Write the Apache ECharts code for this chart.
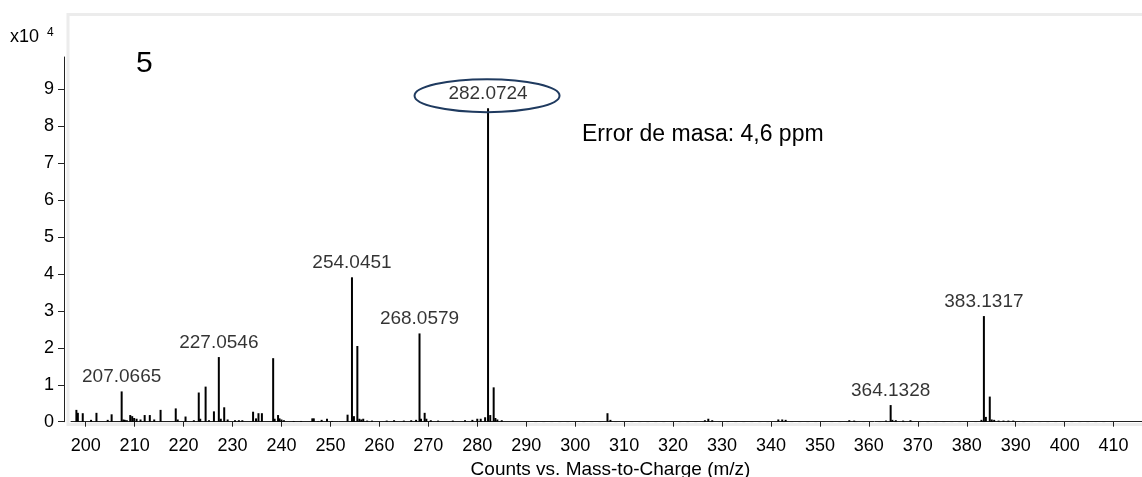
<!DOCTYPE html>
<html>
<head>
<meta charset="utf-8">
<script src="https://cdn.jsdelivr.net/npm/echarts@6/dist/echarts.min.js"></script>
<style>
  html, body { margin: 0; padding: 0; background: #fff; }
  #main { width: 1142px; height: 477px; }
</style>
</head>
<body>
<div id="main"></div>
<script>
// m/z of every stick and its height (counts x10^4)
var mz = [198.1, 198.4, 199.4, 201.1, 202.2, 204.5, 205.3, 207.35, 207.7, 208.0, 208.4, 209.1, 209.5, 209.9, 210.4, 211.2,
  212.05, 213.1, 214.0, 215.3, 218.4, 218.8, 220.4, 222.1, 223.1, 223.4, 224.5, 225.2, 226.2, 227.2, 227.6, 228.3,
  229.0, 230.5, 231.3, 232.0, 234.2, 234.8, 235.3, 236.0, 238.3, 238.6, 239.3, 239.6, 240.0, 240.5, 242.5, 244.0,
  246.3, 246.6, 247.5, 248.2, 249.3, 250.3, 253.5, 254.4, 254.8, 255.5, 255.9, 256.3, 256.7, 257.5, 258.5, 261.5,
  263.0, 265.0, 266.5, 267.5, 268.2, 268.5, 269.25, 269.6, 270.5, 272.0, 275.0, 277.5, 279.0, 280.0, 280.7, 281.6,
  282.2, 282.65, 283.35, 283.7, 284.1, 285.0, 306.6, 307.2, 326.5, 327.2, 328.0, 341.5, 342.3, 343.0, 356.0, 357.0,
  363.5, 364.45, 364.8, 365.5, 367.0, 368.5, 383.0, 383.5, 383.9, 384.7, 385.1, 385.6, 386.5, 387.5, 388.5, 389.5];
var counts = [0.32, 0.24, 0.23, 0.05, 0.24, 0.05, 0.20, 0.82, 0.06, 0.05, 0.04, 0.18, 0.15, 0.10, 0.08, 0.06,
  0.18, 0.18, 0.06, 0.32, 0.36, 0.06, 0.14, 0.04, 0.79, 0.08, 0.95, 0.04, 0.28, 1.75, 0.08, 0.39,
  0.06, 0.04, 0.04, 0.04, 0.27, 0.09, 0.23, 0.23, 1.72, 0.08, 0.18, 0.09, 0.06, 0.04, 0.02, 0.02,
  0.09, 0.09, 0.02, 0.05, 0.08, 0.02, 0.19, 3.91, 0.15, 2.05, 0.08, 0.06, 0.08, 0.03, 0.03, 0.03,
  0.04, 0.03, 0.04, 0.05, 2.39, 0.08, 0.24, 0.08, 0.04, 0.03, 0.03, 0.04, 0.05, 0.08, 0.08, 0.12,
  8.49, 0.18, 0.93, 0.10, 0.06, 0.04, 0.23, 0.05, 0.04, 0.08, 0.04, 0.06, 0.06, 0.05, 0.04, 0.03,
  0.03, 0.45, 0.05, 0.04, 0.03, 0.04, 0.05, 2.86, 0.13, 0.68, 0.06, 0.05, 0.03, 0.03, 0.03, 0.03];

// labelled peaks
var labelMz = [207.35, 227.2, 254.4, 268.2, 282.2, 364.45, 383.5];
var labelText = ['207.0665', '227.0546', '254.0451', '268.0579', '282.0724', '364.1328', '383.1317'];
var circledPeak = '282.0724';

// baseline stretches (solid, then dotted)
var baseSolid = [197.7, 290];
var baseDotted = [290, 410];

var xTicks = [200, 210, 220, 230, 240, 250, 260, 270, 280, 290, 300, 310, 320, 330, 340, 350, 360, 370, 380, 390, 400, 410];
var yTicks = [0, 1, 2, 3, 4, 5, 6, 7, 8, 9];

var font = 'Liberation Sans, Arial, sans-serif';

var sticks = mz.map(function (m, i) { return [m, counts[i]]; });
var labelled = labelMz.map(function (m, i) {
  return { value: [m, counts[mz.indexOf(m)]], name: labelText[i] };
});

var chart = echarts.init(document.getElementById('main'));
var option = {
  backgroundColor: '#fff',
  animation: false,
  textStyle: { fontFamily: font },
  grid: { left: 71, right: 0, top: 57, bottom: 55.3, outerBoundsMode: 'none', containLabel: false },
  xAxis: {
    type: 'value',
    min: 197,
    max: 415.8,
    offset: 6,
    splitLine: { show: false },
    axisLine: { lineStyle: { color: '#222', width: 1 } },
    axisTick: { length: 5, lineStyle: { color: '#222' }, customValues: xTicks },
    axisLabel: { color: '#000', fontSize: 18, margin: 9, fontFamily: font, customValues: xTicks },
    name: 'Counts vs. Mass-to-Charge (m/z)',
    nameLocation: 'middle',
    nameGap: 33,
    nameTextStyle: { color: '#000', fontSize: 19, fontFamily: font, padding: [0, 0, 0, 8] }
  },
  yAxis: {
    type: 'value',
    min: 0,
    max: 9.875,
    offset: 7,
    splitLine: { show: false },
    axisLine: { show: true, lineStyle: { color: '#222', width: 1 } },
    axisTick: { show: true, length: 6, lineStyle: { color: '#222' }, customValues: yTicks },
    axisLabel: { color: '#000', fontSize: 18, margin: 10, fontFamily: font, customValues: yTicks }
  },
  graphic: [
    { type: 'rect', id: 'frame', z: -10, shape: { x: 68, y: 14.5, width: 1100, height: 410 },
      style: { fill: null, stroke: '#ececec', lineWidth: 3 } },
    { type: 'text', left: 10, top: 28, style: { text: 'x10', fontSize: 18, fontFamily: font, fill: '#000' } },
    { type: 'text', left: 47, top: 27, style: { text: '4', fontSize: 12, fontFamily: font, fill: '#000' } },
    { type: 'text', left: 136, top: 49, style: { text: '5', fontSize: 30, fontFamily: font, fill: '#000' } },
    { type: 'text', left: 582, top: 123, style: { text: 'Error de masa: 4,6 ppm', fontSize: 23, fontFamily: font, fill: '#000' } }
  ],
  series: [
    {
      type: 'line',
      data: baseSolid.map(function (m) { return [m, 0]; }),
      symbol: 'none',
      lineStyle: { color: '#222', width: 1 },
      z: 1
    },
    {
      type: 'line',
      data: baseDotted.map(function (m) { return [m, 0]; }),
      symbol: 'none',
      lineStyle: { color: '#222', width: 1, type: [3, 5] },
      z: 1
    },
    {
      type: 'bar',
      data: sticks,
      barWidth: 2,
      barGap: '-100%',
      itemStyle: { color: '#000' },
      z: 3
    },
    {
      type: 'scatter',
      data: labelled,
      symbolSize: 0,
      label: {
        show: true,
        position: 'top',
        distance: 5,
        color: '#000',
        fontSize: 19,
        fontFamily: font,
        formatter: function (p) { return p.name; }
      },
      z: 4
    }
  ]
};
chart.setOption(option);

// ellipse around the base peak label, placed from the axis scale
var k = labelText.indexOf(circledPeak);
var pt = chart.convertToPixel({ gridIndex: 0 }, labelled[k].value);
chart.setOption({
  graphic: [{
    type: 'ellipse', id: 'ring', z: 5,
    shape: { cx: pt[0] - 1, cy: pt[1] - 12.5, rx: 72.5, ry: 16.5 },
    style: { fill: null, stroke: '#1f3a5f', lineWidth: 2 }
  }]
});
</script>
</body>
</html>
